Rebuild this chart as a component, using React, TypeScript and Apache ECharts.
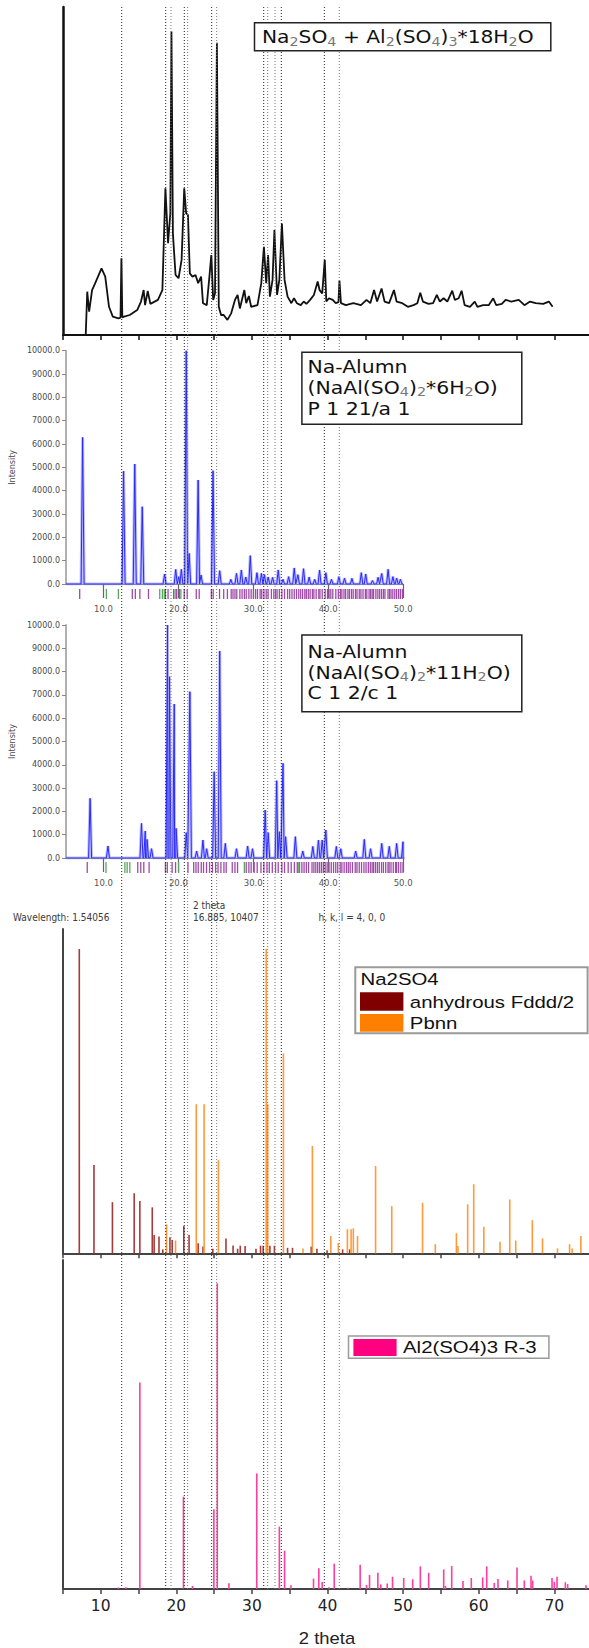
import React, { useEffect, useRef } from 'react';
import * as echarts from 'echarts';

// ---------------- DATA ----------------
// Experimental pattern (2θ, relative intensity)
const EXP_CURVE: [number, number][] = [
  [8.02, 0], [8.22, 13.2], [8.47, 7.1], [8.86, 13.7], [9.36, 16.3], [10.11, 20.3], [10.6, 17.8], [11.1, 8.6],
  [11.6, 5.6], [12.34, 5.1], [12.62, 5.3], [12.74, 23.4], [12.86, 5.4], [13.09, 5.6], [13.84, 6.1], [14.83, 7.6],
  [15.33, 10.2], [15.68, 13.7], [15.87, 9.1], [16.22, 13.4], [16.57, 9.5], [17.57, 10.7], [18.16, 13.7],
  [18.56, 44.7], [18.91, 28.0], [19.21, 37.1], [19.36, 92.5], [19.55, 31.0], [19.9, 18.3], [20.3, 17.3],
  [20.7, 22.9], [21.05, 44.7], [21.3, 37.1], [21.54, 36.6], [21.79, 18.8], [22.14, 17.8], [22.54, 18.3],
  [22.89, 15.8], [23.28, 17.8], [23.53, 9.7], [24.03, 9.1], [24.38, 17.8], [24.63, 24.4], [24.88, 10.7],
  [25.12, 12.7], [25.37, 89.1], [25.62, 8.6], [25.92, 6.1], [26.27, 6.1], [26.76, 4.6], [27.26, 6.6],
  [27.76, 10.7], [28.11, 12.2], [28.41, 8.1], [29.0, 13.7], [29.25, 9.7], [29.6, 11.9], [29.9, 8.6],
  [30.74, 9.1], [31.24, 15.8], [31.59, 26.9], [31.89, 15.8], [32.14, 24.4], [32.38, 11.7], [32.73, 16.8],
  [32.98, 32.0], [33.33, 12.2], [33.63, 16.8], [33.97, 34.0], [34.32, 16.8], [34.72, 11.7], [35.22, 9.7],
  [35.57, 11.2], [35.96, 9.7], [36.46, 9.1], [36.86, 10.2], [37.21, 9.5], [37.7, 10.7], [38.2, 12.2],
  [38.7, 16.3], [38.95, 13.7], [39.3, 12.7], [39.64, 22.9], [39.84, 10.2], [40.19, 11.2], [40.69, 10.7],
  [41.09, 9.7], [41.45, 10.0], [41.58, 16.6], [41.78, 9.7], [42.43, 9.1], [43.42, 9.7], [44.42, 9.1],
  [45.16, 10.7], [45.66, 9.7], [46.16, 13.7], [46.56, 10.2], [47.15, 14.2], [47.55, 10.2], [48.15, 9.7],
  [48.79, 13.7], [49.14, 10.2], [49.89, 9.7], [50.63, 8.6], [51.38, 9.1], [51.88, 9.7], [52.27, 12.9],
  [52.62, 10.2], [53.37, 9.5], [53.97, 9.7], [54.46, 12.2], [54.86, 10.2], [55.36, 11.2], [55.85, 10.2],
  [56.5, 13.5], [56.85, 10.7], [57.35, 11.2], [57.74, 13.5], [58.14, 9.1], [58.84, 8.6], [59.48, 10.2],
  [59.83, 8.6], [60.58, 9.1], [61.32, 9.1], [61.92, 11.2], [62.32, 9.1], [63.06, 9.5], [63.56, 10.7],
  [64.31, 10.2], [65.3, 10.7], [66.05, 9.1], [66.79, 10.2], [67.54, 9.7], [68.53, 9.5], [69.28, 10.2],
  [69.78, 8.6],
];

// Na-Alumn NaAl(SO4)2*6H2O calculated pattern: peak position, intensity
const ALUM6_PEAKS: [number, number][] = [
  [7.22, 6286], [12.69, 4843], [14.18, 5143], [15.18, 3314], [18.16, 414], [19.65, 629], [20.05, 314],
  [20.4, 629], [21.05, 10000], [21.44, 1314], [22.64, 4457], [23.03, 386], [24.63, 4857], [25.52, 571],
  [27.01, 200], [27.76, 457], [28.41, 600], [29.0, 300], [29.6, 1214], [30.49, 486], [31.09, 457],
  [31.49, 400], [31.99, 300], [32.58, 286], [33.33, 600], [33.97, 200], [34.72, 314], [35.47, 686],
  [35.96, 400], [36.71, 657], [37.46, 300], [38.2, 200], [38.85, 600], [39.69, 486], [40.44, 200],
  [41.43, 314], [42.18, 250], [43.17, 243], [44.42, 486], [45.01, 429], [45.91, 150], [46.66, 286],
  [47.15, 450], [48.0, 629], [48.64, 314], [49.14, 250], [49.64, 200],
];
const ALUM6_MARKS_PURPLE: number[] = [
  7.22, 14.18, 14.58, 15.18, 16.32, 18.56, 18.91, 19.65, 20.05, 20.4, 21.05, 21.44, 22.64, 23.03, 24.63,
  24.88, 25.72, 26.27, 26.76, 27.26, 27.5, 27.76, 28.0, 28.41, 28.7, 29.0, 29.25, 29.6, 29.9, 30.2, 30.49,
  30.74, 31.09, 31.3, 31.59, 31.89, 32.14, 32.58, 32.9, 33.13, 33.33, 33.63, 33.97, 34.32, 34.72, 35.0,
  35.3, 35.6, 35.9, 36.2, 36.46, 36.71, 37.0, 37.2, 37.46, 37.7, 38.0, 38.2, 38.5, 38.85, 39.0, 39.3,
  39.69, 40.0, 40.2, 40.44, 40.7, 41.1, 41.43, 41.7, 41.9, 42.18, 42.4, 42.7, 42.9, 43.17, 43.4, 43.7,
  43.9, 44.2, 44.42, 44.7, 45.01, 45.2, 45.5, 45.7, 45.91, 46.1, 46.4, 46.66, 46.9, 47.15, 47.4, 47.6,
  48.0, 48.2, 48.4, 48.64, 48.9, 49.14, 49.4, 49.64, 49.9,
];
const ALUM6_MARKS_GREEN: number[] = [10.75, 12.34, 17.81, 18.16, 18.41, 19.85, 20.6];

// Na-Alumn NaAl(SO4)2*11H2O calculated pattern
const ALUM11_PEAKS: [number, number][] = [
  [8.22, 2560], [10.6, 515], [15.08, 1488], [15.58, 1159], [15.82, 800], [16.42, 400], [18.56, 10000],
  [18.81, 7782], [19.45, 6610], [19.7, 1273], [21.05, 1087], [21.54, 7139], [22.44, 300], [23.28, 772],
  [23.78, 400], [24.78, 3705], [25.52, 8884], [26.27, 629], [27.76, 400], [29.25, 515], [29.9, 400],
  [31.59, 2060], [31.99, 1087], [33.13, 3319], [33.48, 1130], [33.97, 4063], [34.32, 916], [35.62, 916],
  [36.61, 300], [37.95, 500], [38.7, 772], [39.2, 772], [39.69, 1202], [41.09, 500], [41.68, 400],
  [43.67, 300], [44.82, 801], [45.66, 400], [47.15, 629], [48.15, 500], [49.14, 629], [49.99, 701],
];
const ALUM11_MARKS_PURPLE: number[] = [
  8.22, 14.9, 15.3, 15.7, 16.4, 18.56, 18.81, 19.45, 19.9, 21.54, 22.3, 22.6, 22.9, 23.3, 23.6, 24.0,
  24.4, 24.78, 25.2, 25.52, 25.9, 26.3, 26.6, 27.4, 27.76, 28.1, 29.25, 29.6, 29.9, 30.3, 30.7, 31.2,
  31.59, 31.99, 32.3, 32.7, 33.13, 33.48, 33.97, 34.32, 34.8, 35.2, 35.62, 36.0, 36.3, 36.61, 36.9,
  37.2, 37.5, 37.95, 38.2, 38.45, 38.7, 38.95, 39.2, 39.45, 39.69, 39.95, 40.2, 40.5, 40.8, 41.09,
  41.35, 41.68, 41.9, 42.2, 42.5, 42.75, 43.0, 43.3, 43.67, 43.9, 44.2, 44.5, 44.82, 45.1, 45.4, 45.66,
  45.9, 46.1, 46.35, 46.6, 46.85, 47.15, 47.4, 47.7, 48.0, 48.15, 48.4, 48.7, 49.0, 49.14, 49.4, 49.7,
  49.99,
];
const ALUM11_MARKS_GREEN: number[] = [10.7, 13.2, 13.5, 13.85, 20.3, 29.0, 36.2];

// Na2SO4 stick patterns (2θ, relative intensity)
const NA2SO4_FDDD: [number, number][] = [
  [7.17, 100], [9.11, 29], [11.55, 16.8], [14.43, 19.7], [15.18, 17.2], [16.82, 15.1], [17.07, 6],
  [17.71, 5.5], [18.21, 1.3], [19.16, 5.3], [19.46, 4.4], [20.99, 9], [21.69, 6], [22.89, 3.3],
  [23.53, 2.2], [24.83, 1.5], [26.57, 4.9], [27.51, 2.6], [28.11, 1.5], [28.46, 2.5], [29.1, 2.4],
  [30.54, 1.5], [31.14, 2.5], [31.49, 2.5], [32.38, 2.5], [32.98, 2.5], [34.72, 1.8], [35.37, 1.8],
  [37.85, 2.2], [38.6, 1.5], [39.94, 1.0], [42.0, 1.3], [42.93, 1.3],
];
const NA2SO4_PBNN: [number, number][] = [
  [18.71, 9.5], [19.9, 4.2], [22.64, 49], [23.68, 49], [25.57, 30.6], [31.89, 100], [32.09, 49],
  [34.17, 65.7], [36.76, 1.6], [38.0, 35.3], [40.44, 5.7], [41.43, 3.3], [42.63, 7.9], [43.12, 7.9],
  [43.42, 8.2], [43.97, 5.7], [46.36, 28.7], [48.5, 15.5], [52.57, 16.6], [54.26, 3.0], [57.05, 6.6],
  [57.25, 2.4], [58.54, 16.1], [59.34, 22.7], [60.68, 8.7], [62.82, 3.8], [64.11, 17.7], [64.9, 4.2],
  [67.09, 10.9], [68.44, 4.9], [70.42, 1.6], [72.02, 3.0], [72.36, 1.6], [73.51, 5.7],
];

// Al2(SO4)3 R-3 stick pattern
const AL2SO43_R3: [number, number][] = [
  [12.34, 0.5], [13.34, 0.6], [15.18, 67.5], [20.95, 30.2], [22.14, 1.0], [24.97, 26.1], [25.42, 100],
  [26.96, 1.9], [30.64, 37.8], [33.63, 20.4], [34.32, 12.5], [35.17, 1.2], [38.15, 3.4], [38.85, 6.8],
  [39.3, 2.3], [40.19, 0.6], [40.89, 8.3], [42.68, 0.4], [44.32, 7.9], [45.16, 1.3], [45.56, 4.6],
  [46.66, 5.3], [47.05, 1.5], [47.9, 1.8], [48.6, 4.0], [50.08, 3.6], [51.27, 3.2], [52.28, 7.4],
  [53.38, 5.3], [55.37, 6.4], [55.6, 1.0], [56.43, 7.5], [57.92, 2.6], [59.02, 3.6], [60.53, 3.8],
  [61.06, 7.4], [62.06, 2.0], [62.55, 3.3], [63.84, 2.8], [65.07, 7.0], [66.03, 2.8], [66.92, 4.3],
  [67.14, 2.8], [69.7, 3.6], [70.0, 2.4], [70.36, 4.0], [71.46, 2.2], [71.77, 1.6], [74.19, 1.2],
];

// Reference 2θ positions marked by the dotted guide lines
const DOTTED_LINES: number[] = [12.78, 18.6, 19.3, 21.06, 21.5, 24.68, 25.34, 31.56, 32.09, 33.06, 33.89, 39.58, 41.56];
const BOTTOM_TICK_LABELS: number[] = [10, 20, 30, 40, 50, 60, 70];
const BOTTOM_TICKS: number[] = [5, 10, 15, 20, 25, 30, 35, 40, 45, 50, 55, 60, 65, 70];
const ALUM_TICK_LABELS: number[] = [10, 20, 30, 40, 50];

// ---------------- HELPERS ----------------
function profile(peaks: [number, number][], lo: number, hi: number, w: number): [number, number][] {
  const pts: [number, number][] = [[lo, 0]];
  peaks.forEach(([p, h]) => {
    pts.push([p - w, 0], [p, h], [p + w, 0]);
  });
  pts.push([hi, 0]);
  pts.sort((a, b) => a[0] - b[0]);
  return pts;
}

const stick = (color: string, width: number) => (_params: any, api: any) => {
  const x = api.value(0);
  const h = api.value(1);
  const a = api.coord([x, 0]);
  const b = api.coord([x, h]);
  return {
    type: 'line',
    shape: { x1: a[0], y1: a[1], x2: b[0], y2: b[1] },
    style: { stroke: color, lineWidth: width },
  };
};

const LEFT = 62.9;
const X_END = 74.59; // 2θ value at the right edge of the picture
const FULL_W = 526.1; // 5..74.59
const HALF_W = 340.2; // 5..50

export default function App() {
  const ref = useRef<HTMLDivElement>(null);

  useEffect(() => {
    if (!ref.current) return;
    const chart = echarts.init(ref.current, undefined, { renderer: 'svg' });

    const hiddenX = (gridIndex: number, max: number) => ({
      gridIndex, type: 'value', min: 5, max, show: false,
    });
    const hiddenY = (gridIndex: number, max: number) => ({
      gridIndex, type: 'value', min: 0, max, show: false,
    });

    const alumX = (gridIndex: number) => ({
      gridIndex, type: 'value', min: 5, max: 50,
      axisLine: { show: true, lineStyle: { color: '#8a8a8a', width: 1 } },
      axisTick: { show: true, customValues: ALUM_TICK_LABELS, length: 14, lineStyle: { color: '#666', width: 1.2 } },
      axisLabel: {
        show: true, customValues: ALUM_TICK_LABELS, formatter: (v: number) => v.toFixed(1),
        fontSize: 8.5, color: '#555', margin: 20, fontFamily: 'DejaVu Sans',
      },
      splitLine: { show: false },
    });
    const alumY = (gridIndex: number) => ({
      gridIndex, type: 'value', min: 0, max: 10000, interval: 1000,
      axisLine: { show: true, lineStyle: { color: '#b0b0b0', width: 2 } },
      axisTick: { show: true, length: 4, lineStyle: { color: '#888' } },
      axisLabel: { formatter: (v: number) => v.toFixed(1), fontSize: 8, color: '#4a4a4a', margin: 6, fontFamily: 'DejaVu Sans' },
      splitLine: { show: false },
      name: 'Intensity', nameLocation: 'middle', nameGap: 43,
      nameTextStyle: { fontSize: 8, color: '#4a4a4a', fontFamily: 'DejaVu Sans' },
    });

    const fullX = (gridIndex: number, color: string, labels: boolean) => ({
      gridIndex, type: 'value', min: 5, max: X_END,
      axisLine: { show: true, lineStyle: { color, width: 2 } },
      axisTick: { show: true, customValues: BOTTOM_TICKS, length: 5, lineStyle: { color, width: 1.5 } },
      axisLabel: labels
        ? { show: true, customValues: BOTTOM_TICK_LABELS, fontSize: 15.5, color: '#222', margin: 9, fontFamily: 'DejaVu Sans' }
        : { show: false },
      splitLine: { show: false },
    });
    const lineY = (gridIndex: number, max: number, color: string, width: number) => ({
      gridIndex, type: 'value', min: 0, max,
      axisLine: { show: true, lineStyle: { color, width } },
      axisTick: { show: false }, axisLabel: { show: false }, splitLine: { show: false },
    });

    const sub = { fontSize: 12, fill: '#777', fontFamily: 'DejaVu Sans', verticalAlign: 'bottom', lineHeight: 18 };
    const mainRich = { m: { fontSize: 17, fill: '#111', fontFamily: 'DejaVu Sans', lineHeight: 20 }, s: sub };
    const boxText = (x: number, y: number, text: string, sx = 1.2) => ({
      type: 'text', x, y, scaleX: sx, z: 101,
      style: { text, rich: mainRich, fontSize: 17, fill: '#111', fontFamily: 'DejaVu Sans', verticalAlign: 'middle', align: 'left' },
    });
    const arialText = (x: number, y: number, text: string, size = 17, sx = 1.2, color = '#111') => ({
      type: 'text', x, y, scaleX: sx, z: 101,
      style: { text, fontSize: size, fill: color, fontFamily: 'Liberation Sans', verticalAlign: 'middle', align: 'left' },
    });
    const smallText = (x: number, y: number, text: string) => ({
      type: 'text', x, y, scaleX: 0.9, z: 101,
      style: { text, fontSize: 10, fill: '#3a3a3a', fontFamily: 'DejaVu Sans', verticalAlign: 'middle', align: 'left' },
    });

    const alumProfile6 = profile(ALUM6_PEAKS, 5, 50, 0.2);
    const alumProfile11 = profile(ALUM11_PEAKS, 5, 50, 0.2);

    const option: any = {
      animation: false,
      backgroundColor: '#ffffff',
      grid: [
        { left: LEFT, top: 7, width: FULL_W, height: 328 },        // 0 experimental
        { left: LEFT, top: 350.7, width: HALF_W, height: 233.3 },  // 1 alum 6H2O
        { left: LEFT, top: 589, width: HALF_W, height: 10 },       // 2 markers
        { left: LEFT, top: 625, width: HALF_W, height: 233 },      // 3 alum 11H2O
        { left: LEFT, top: 862, width: HALF_W, height: 11 },       // 4 markers
        { left: LEFT, top: 929, width: FULL_W, height: 324.3 },    // 5 Na2SO4
        { left: LEFT, top: 1260, width: FULL_W, height: 329 },     // 6 Al2(SO4)3
        { left: LEFT, top: 7, width: FULL_W, height: 1582 },       // 7 overlay
      ],
      xAxis: [
        fullX(0, '#111', false),
        alumX(1),
        hiddenX(2, 50),
        alumX(3),
        hiddenX(4, 50),
        fullX(5, '#444', false),
        fullX(6, '#444', true),
        hiddenX(7, X_END),
      ],
      yAxis: [
        lineY(0, 100, '#111', 2.5),
        alumY(1),
        hiddenY(2, 1),
        alumY(3),
        hiddenY(4, 1),
        lineY(5, 106.6, '#444', 2),
        lineY(6, 107.6, '#444', 2),
        hiddenY(7, 1),
      ],
      series: [
        {
          type: 'line', xAxisIndex: 0, yAxisIndex: 0, data: EXP_CURVE, symbol: 'none',
          lineStyle: { color: '#111', width: 1.8 }, silent: true,
        },
        {
          type: 'line', xAxisIndex: 1, yAxisIndex: 1, data: alumProfile6, symbol: 'none',
          lineStyle: { color: 'rgba(110,110,255,0.45)', width: 3 }, silent: true,
        },
        {
          type: 'line', xAxisIndex: 1, yAxisIndex: 1, data: alumProfile6, symbol: 'none',
          lineStyle: { color: '#2a2aff', width: 1 }, silent: true,
        },
        {
          type: 'custom', xAxisIndex: 2, yAxisIndex: 2, data: ALUM6_MARKS_PURPLE.map((v) => [v, 1]),
          renderItem: stick('#a04aa8', 1.3), silent: true,
        },
        {
          type: 'custom', xAxisIndex: 2, yAxisIndex: 2, data: ALUM6_MARKS_GREEN.map((v) => [v, 1]),
          renderItem: stick('#5aa860', 1.3), silent: true,
        },
        {
          type: 'line', xAxisIndex: 3, yAxisIndex: 3, data: alumProfile11, symbol: 'none',
          lineStyle: { color: 'rgba(110,110,255,0.45)', width: 3 }, silent: true,
        },
        {
          type: 'line', xAxisIndex: 3, yAxisIndex: 3, data: alumProfile11, symbol: 'none',
          lineStyle: { color: '#2a2aff', width: 1 }, silent: true,
        },
        {
          type: 'custom', xAxisIndex: 4, yAxisIndex: 4, data: ALUM11_MARKS_PURPLE.map((v) => [v, 1]),
          renderItem: stick('#a04aa8', 1.3), silent: true,
        },
        {
          type: 'custom', xAxisIndex: 4, yAxisIndex: 4, data: ALUM11_MARKS_GREEN.map((v) => [v, 1]),
          renderItem: stick('#5aa860', 1.3), silent: true,
        },
        {
          type: 'custom', xAxisIndex: 5, yAxisIndex: 5, data: NA2SO4_FDDD,
          renderItem: stick('#a83a3a', 1.6), silent: true,
        },
        {
          type: 'custom', xAxisIndex: 5, yAxisIndex: 5, data: NA2SO4_PBNN,
          renderItem: stick('#ff9a3c', 1.6), silent: true,
        },
        {
          type: 'custom', xAxisIndex: 6, yAxisIndex: 6, data: AL2SO43_R3,
          renderItem: stick('#ff3d9e', 1.6), silent: true,
        },
        {
          type: 'custom', xAxisIndex: 7, yAxisIndex: 7, data: DOTTED_LINES.map((v) => [v, 1]), z: 5,
          renderItem: (params: any, api: any) => {
            const x = api.value(0);
            const a = api.coord([x, 0]);
            const b = api.coord([x, 1]);
            const dark = [0, 1, 3, 5, 7, 10, 11].indexOf(params.dataIndex) >= 0;
            return {
              type: 'line',
              shape: { x1: a[0], y1: a[1], x2: b[0], y2: b[1] },
              style: { stroke: dark ? '#222' : '#777', lineWidth: 1, lineDash: [1, 2] },
            };
          },
          silent: true,
        },
      ],
      graphic: [
        // Panel 1 title box
        { type: 'rect', z: 100, shape: { x: 254.5, y: 22.7, width: 296.3, height: 28 }, style: { fill: '#fff', stroke: '#222', lineWidth: 1.5 } },
        boxText(262, 37.5, '{m|Na}{s|2}{m|SO}{s|4}{m| + Al}{s|2}{m|(SO}{s|4}{m|)}{s|3}{m|*18H}{s|2}{m|O}', 1.19),
        // Panel 2 box
        { type: 'rect', z: 100, shape: { x: 301.9, y: 352.3, width: 219.9, height: 72 }, style: { fill: '#fff', stroke: '#222', lineWidth: 1.5 } },
        boxText(307.5, 366.7, '{m|Na-Alumn}'),
        boxText(307.5, 388.3, '{m|(NaAl(SO}{s|4}{m|)}{s|2}{m|*6H}{s|2}{m|O)}'),
        boxText(307.5, 409, '{m|P 1 21/a 1}'),
        // Panel 3 box
        { type: 'rect', z: 100, shape: { x: 301.9, y: 635, width: 219.9, height: 76.7 }, style: { fill: '#fff', stroke: '#222', lineWidth: 1.5 } },
        boxText(307.5, 651.7, '{m|Na-Alumn}'),
        boxText(307.5, 673.3, '{m|(NaAl(SO}{s|4}{m|)}{s|2}{m|*11H}{s|2}{m|O)}'),
        boxText(307.5, 693.3, '{m|C 1 2/c 1}'),
        // Info texts
        smallText(13, 917, 'Wavelength: 1.54056'),
        smallText(193, 905.5, '2 theta'),
        smallText(193, 917, '16.885, 10407'),
        smallText(318.5, 917, 'h, k, l = 4, 0, 0'),
        // Na2SO4 legend
        { type: 'rect', z: 100, shape: { x: 355.3, y: 967.3, width: 232.3, height: 66 }, style: { fill: '#fff', stroke: '#9a9a9a', lineWidth: 2 } },
        arialText(360.5, 979.5, 'Na2SO4'),
        { type: 'rect', z: 101, shape: { x: 360, y: 992.3, width: 43.4, height: 18.4 }, style: { fill: '#800000' } },
        { type: 'rect', z: 101, shape: { x: 360, y: 1014, width: 43.4, height: 17.7 }, style: { fill: '#ff8000' } },
        arialText(409.8, 1001.7, 'anhydrous Fddd/2'),
        arialText(409.8, 1022.7, 'Pbnn'),
        // Al2(SO4)3 legend
        { type: 'rect', z: 100, shape: { x: 348.5, y: 1336, width: 200.4, height: 22.3 }, style: { fill: '#fff', stroke: '#9a9a9a', lineWidth: 1.5 } },
        { type: 'rect', z: 101, shape: { x: 353.4, y: 1339, width: 43.2, height: 17 }, style: { fill: '#ff0080' } },
        arialText(403, 1347, 'Al2(SO4)3 R-3'),
        // Bottom axis title
        { type: 'text', x: 327, y: 1638, scaleX: 1.15, z: 101, style: { text: '2 theta', fontSize: 16, fill: '#222', fontFamily: 'Liberation Sans', align: 'center', verticalAlign: 'middle' } },
      ],
    };

    chart.setOption(option);
    return () => chart.dispose();
  }, []);

  return (
    <div
      ref={ref}
      style={{ position: 'absolute', left: 0, top: 0, width: 589, height: 1648, background: '#fff' }}
    />
  );
}
